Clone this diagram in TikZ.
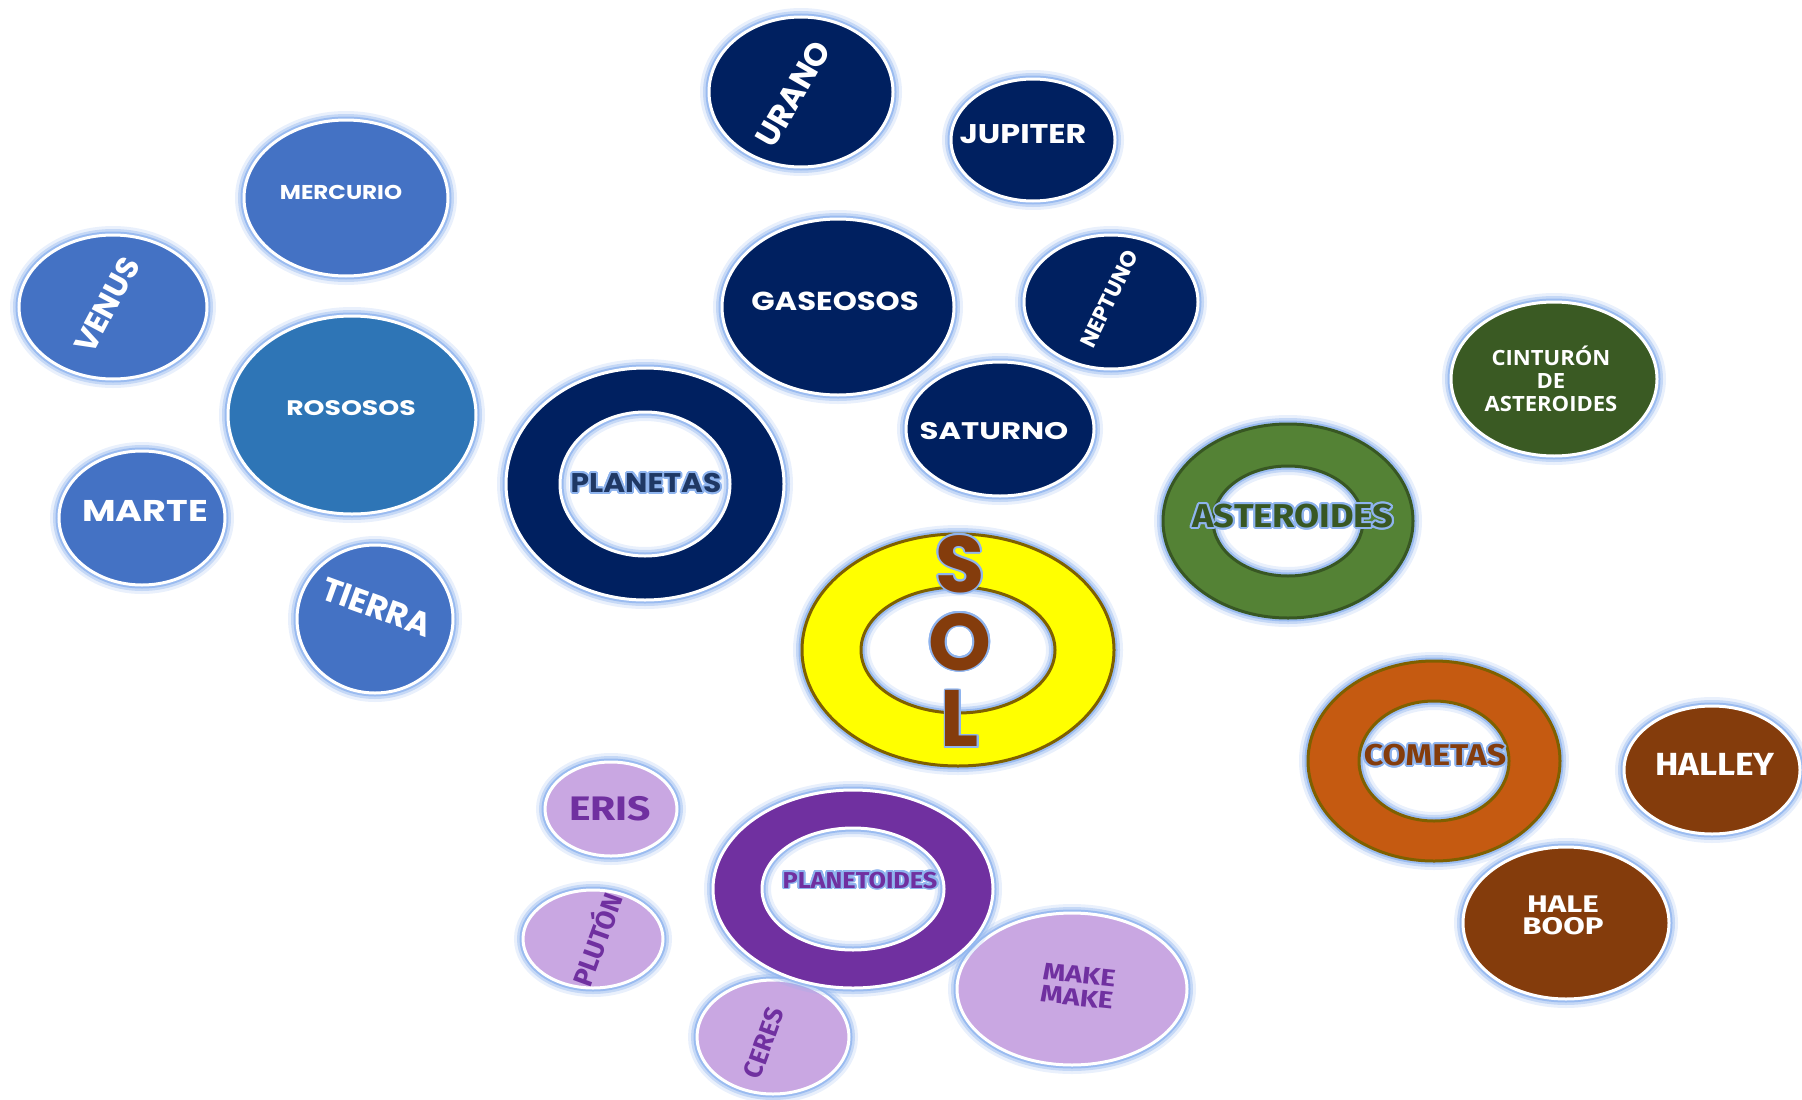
\documentclass[tikz,border=0pt]{standalone}
\usepackage{fontspec}
\setmainfont{Poppins}
\newfontfamily\twfont{Fira Sans}
\newfontfamily\calfont{Open Sans}
\usepackage{contour}
\contourlength{1.8pt}
\usepackage{tikz}
\usetikzlibrary{positioning}

\definecolor{glowblue}{HTML}{8FB4EE}
\definecolor{rockblue}{HTML}{4472C4}
\definecolor{rockdeep}{HTML}{2E75B6}
\definecolor{gasnavy}{HTML}{002060}
\definecolor{navytext}{HTML}{1F3864}
\definecolor{beltgreen}{HTML}{3A5A23}
\definecolor{astgreen}{HTML}{548235}
\definecolor{astline}{HTML}{385723}
\definecolor{sunyellow}{HTML}{FFFF00}
\definecolor{sunline}{HTML}{7F6000}
\definecolor{sunbrown}{HTML}{843C0C}
\definecolor{cometorange}{HTML}{C55A11}
\definecolor{dwarfpurple}{HTML}{7030A0}
\definecolor{dwarflilac}{HTML}{C9A7E2}

\tikzset{
	txt/.style={font=\bfseries, text=white, align=center, inner sep=0pt},
	halo/.style={draw=glowblue, line width=#1}
}

% relleno con halo y borde blanco
\newcommand{\bubble}[5]{%
	\foreach \gw/\go in {18/0.2, 12/0.4, 7/0.8}
		\draw[halo=\gw pt, opacity=\go] (#1,#2) ellipse [x radius=#3, y radius=#4];
	\fill[#5] (#1,#2) ellipse [x radius=#3, y radius=#4];
	\draw[white, line width=3pt] (#1,#2) ellipse [x radius=#3, y radius=#4];
}
% anillo: x y rx ry irx iry relleno borde
\newcommand{\ringbubble}[8]{%
	\foreach \gw/\go in {18/0.2, 12/0.4, 7/0.8} {
		\draw[halo=\gw pt, opacity=\go] (#1,#2) ellipse [x radius=#3, y radius=#4];
		\draw[halo=\gw pt, opacity=\go] (#1,#2) ellipse [x radius=#5, y radius=#6];
	}
	\fill[#7, even odd rule] (#1,#2) ellipse [x radius=#3, y radius=#4] (#1,#2) ellipse [x radius=#5, y radius=#6];
	\draw[#8, line width=3pt] (#1,#2) ellipse [x radius=#3, y radius=#4] (#1,#2) ellipse [x radius=#5, y radius=#6];
}

\begin{document}
\begin{tikzpicture}[x=1pt, y=-1pt]
	\useasboundingbox (0,0) rectangle (1802,1100);

	\foreach \cx/\cy/\rx/\ry/\col in {
		801/92/92/75/gasnavy, 1033/140/82/61/gasnavy, 346/198/102/78/rockblue,
		113/307/94/72/rockblue, 838/307/116/88/gasnavy, 1111/302/87/67/gasnavy,
		1554/379/103/77/beltgreen, 352/415/124/99/rockdeep, 1000/429/94/67/gasnavy,
		142/518/83/67/rockblue, 375/619/78/74/rockblue, 611/809/66/47/dwarflilac,
		1712/770/88/64/sunbrown, 1566/923/103/76/sunbrown, 593/939/70/49/dwarflilac,
		1072/989/115/76/dwarflilac, 773/1037/76/57/dwarflilac}
		\bubble{\cx}{\cy}{\rx}{\ry}{\col};

	\ringbubble{645}{484}{139}{116}{85}{72}{gasnavy}{white};
	\ringbubble{1288}{521}{125}{97}{75}{55}{astgreen}{astline};
	\ringbubble{958}{650}{156}{116}{97}{63}{sunyellow}{sunline};
	\ringbubble{853}{889}{140}{99}{91}{61}{dwarfpurple}{white};
	\ringbubble{1434}{761}{126}{100}{75}{60}{cometorange}{sunline};

	% planetas rocosos
	\node[txt, font=\bfseries\fontsize{20}{22}\selectfont, xscale=1.15] (mercurio) at (341,192) {MERCURIO};
	\node[txt, font=\bfseries\fontsize{31}{33}\selectfont, rotate=62] (venus) at (107,305) {VENUS};
	\node[txt, font=\bfseries\fontsize{21}{23}\selectfont, xscale=1.27] (rososos) at (351,408) {ROSOSOS};
	\node[txt, font=\bfseries\fontsize{30}{32}\selectfont, xscale=1.22] (marte) at (145,511) {MARTE};
	\node[txt, font=\bfseries\fontsize{33}{35}\selectfont, rotate=-20] (tierra) at (377,607) {TIERRA};

	% planetas gaseosos
	\node[txt, font=\bfseries\fontsize{32}{34}\selectfont, rotate=60] (urano) at (793,94) {URANO};
	\node[txt, font=\bfseries\fontsize{27}{29}\selectfont, xscale=1.18] (jupiter) at (1023,134) {JUPITER};
	\node[txt, font=\bfseries\fontsize{26}{28}\selectfont, xscale=1.18] (gaseosos) at (835,301) {GASEOSOS};
	\node[txt, font=\bfseries\fontsize{22}{24}\selectfont, rotate=64] (neptuno) at (1109,299) {NEPTUNO};
	\node[txt, font=\bfseries\fontsize{24}{26}\selectfont, xscale=1.28] (saturno) at (994,431) {SATURNO};

	% anillos
	\node[txt, text=navytext, font=\bfseries\fontsize{27}{29}\selectfont, xscale=1.1] (planetas) at (646,484) {\contour{glowblue}{PLANETAS}};
	\node[txt, text=astline, font=\twfont\bfseries\fontsize{33}{35}\selectfont, xscale=1.1] (asteroides) at (1293,517) {\contour{glowblue}{ASTEROIDES}};
	\node[txt, text=sunbrown, font=\twfont\bfseries\fontsize{30}{32}\selectfont, xscale=1.13] (cometas) at (1435,756) {\contour{glowblue}{COMETAS}};
	\node[txt, text=dwarfpurple, font=\twfont\bfseries\fontsize{23}{25}\selectfont, xscale=1.1] (planetoides) at (860,881) {\contour{glowblue}{PLANETOIDES}};
	\node[txt, text=sunbrown, font=\bfseries\fontsize{80}{80}\selectfont] (solS) at (960,565) {\contour{glowblue}{S}};
	\node[txt, text=sunbrown, font=\bfseries\fontsize{80}{80}\selectfont, below=18pt of solS] (solO) {\contour{glowblue}{O}};
	\node[txt, text=sunbrown, font=\bfseries\fontsize{80}{80}\selectfont, below=18pt of solO] (solL) {\contour{glowblue}{L}};

	% asteroides y cometas
	\node[txt, font=\calfont\bfseries\fontsize{21}{23}\selectfont, xscale=1.05] (cinturon) at (1551,379) {CINTURÓN\\DE\\ASTEROIDES};
	\node[txt, font=\twfont\bfseries\fontsize{32}{34}\selectfont, xscale=1.1] (halley) at (1715,764) {HALLEY};
	\node[txt, font=\twfont\bfseries\fontsize{24}{22}\selectfont, xscale=1.3] (haleboop) at (1563,915) {HALE\\BOOP};

	% planetas enanos
	\node[txt, text=dwarfpurple, font=\twfont\bfseries\fontsize{34}{36}\selectfont, xscale=1.2] (eris) at (610,809) {ERIS};
	\node[txt, text=dwarfpurple, font=\twfont\bfseries\fontsize{27}{29}\selectfont, rotate=70] (pluton) at (595,939) {PLUTÓN};
	\node[txt, text=dwarfpurple, font=\twfont\bfseries\fontsize{24}{23}\selectfont, rotate=-6, xscale=1.2] (makemake) at (1078,986) {MAKE\\MAKE};
	\node[txt, text=dwarfpurple, font=\twfont\bfseries\fontsize{26}{28}\selectfont, rotate=70] (ceres) at (764,1043) {CERES};

\end{tikzpicture}
\end{document}
